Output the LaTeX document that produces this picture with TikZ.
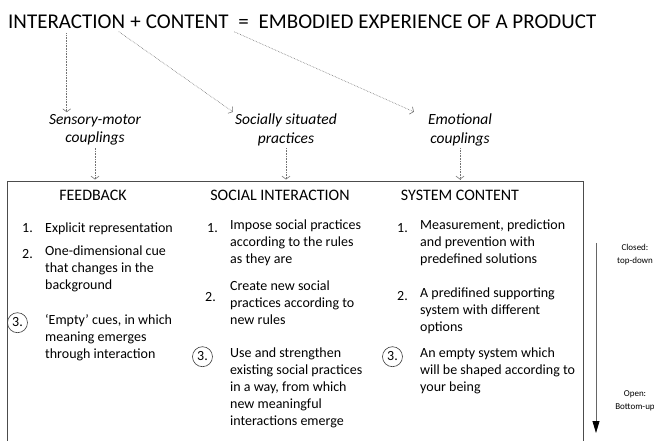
\documentclass[tikz,border=0pt]{standalone}
\usepackage{fontspec}
\setmainfont{Carlito}
\usetikzlibrary{positioning,arrows.meta}

\begin{document}
\begin{tikzpicture}[x=1pt, y=-1pt,
        title/.style={inner sep=0pt, font=\fontsize{21}{25}\selectfont},
        couple/.style={inner sep=2pt, align=center, font=\fontsize{15.5}{18.5}\selectfont\itshape},
        head/.style={inner sep=2pt, font=\fontsize{16}{19}\selectfont},
        item/.style={inner sep=0pt, anchor=north west, align=left,
            font=\fontsize{14}{17}\selectfont, execute at begin node=\strut},
        num/.style={inner sep=0pt, font=\fontsize{14}{17}\selectfont, execute at begin node=\strut},
        ring/.style={draw=black!75, circle, minimum size=20pt, inner sep=0pt, line width=0.6pt},
        link/.style={draw=black!55, densely dotted, line width=0.6pt,
            -{Straight Barb[length=3pt, width=8pt, line width=0.6pt]}},
        frame/.style={draw=black!70, line width=0.9pt},
        side/.style={inner sep=0pt, align=center, font=\fontsize{9}{13}\selectfont}]
    \useasboundingbox (0,0) rectangle (654,441);

    % Title line
    \node (interaction) [title, anchor=base west] at (8,29) {INTERACTION};
    \node (plus) [title, base right=4.7pt of interaction] {+};
    \node (content) [title, base right=4.7pt of plus] {CONTENT};
    \node (equals) [title, base right=9.4pt of content] {=};
    \node (product) [title, base right=9.4pt of equals] {EMBODIED EXPERIENCE OF A PRODUCT};

    % Couplings
    \node (sensory) [couple] at (95,130) {Sensory-motor\\couplings};
    \node (socially) [couple] at (286,130) {Socially situated\\practices};
    \node (emotional) [couple] at (460,130) {Emotional\\couplings};

    \draw [link, shorten <=4pt] (interaction.south) -- (interaction.south |- sensory.north);
    \draw [link, shorten <=4pt] ([xshift=-10pt]interaction.south east) -- (socially.north west);
    \draw [link, shorten <=6pt] (content.south east) -- ([xshift=-12pt]emotional.north west);

    % Frame, open at the bottom
    \coordinate (fl) at (7,441);
    \coordinate (fr) at (583,441);
    \draw [frame] (fl) -- (fl |- 0,181) -- (fr |- 0,181) -- (fr);

    % Column heads
    \node (feedback) [head] at (93,195) {FEEDBACK};
    \node (social) [head] at (280,195) {SOCIAL INTERACTION};
    \node (system) [head] at (460,195) {SYSTEM CONTENT};

    \draw [link, shorten >=8pt] (sensory.south) -- (sensory.south |- feedback.north);
    \draw [link, shorten >=8pt] (socially.south) -- (socially.south |- social.north);
    \draw [link, shorten >=8pt] (emotional.south) -- (emotional.south |- system.north);

    % Feedback
    \node (f1) [item] at (45,220) {Explicit representation};
    \node (f2) [item] at (45,246) {One-dimensional cue\\that changes in the\\background};
    \node (f3) [item] at (45,314) {`Empty' cues, in which\\meaning emerges\\through interaction};
    \node (f1n) [num, below left=0pt and 12pt of f1.north west] {1.};
    \node (f2n) [num, below left=0pt and 12pt of f2.north west] {2.};
    \node (f3n) [num, below left=0pt and 22pt of f3.north west] {3.};
    \node (f3r) [ring] at (f3n) {};

    % Social interaction
    \node (s1) [item] at (230,220) {Impose social practices\\according to the rules\\as they are};
    \node (s2) [item] at (230,281) {Create new social\\practices according to\\new rules};
    \node (s3) [item] at (230,348) {Use and strengthen\\existing social practices\\in a way, from which\\new meaningful\\interactions emerge};
    \node (s1n) [num, below left=0pt and 12pt of s1.north west] {1.};
    \node (s2n) [num, below left=8pt and 14pt of s2.north west] {2.};
    \node (s3n) [num, below left=0pt and 22pt of s3.north west] {3.};
    \node (s3r) [ring] at (s3n) {};

    % System content
    \node (c1) [item] at (420,220) {Measurement, prediction\\and prevention with\\predefined solutions};
    \node (c2) [item] at (420,288) {A predifined supporting\\system with different\\options};
    \node (c3) [item] at (420,348) {An empty system which\\will be shaped according to\\your being};
    \node (c1n) [num, below left=0pt and 12pt of c1.north west] {1.};
    \node (c2n) [num, below left=0pt and 12pt of c2.north west] {2.};
    \node (c3n) [num, below left=0pt and 22pt of c3.north west] {3.};
    \node (c3r) [ring] at (c3n) {};

    % Closed to open scale
    \coordinate (top) at (596,243);
    \coordinate (bottom) at (596,433);
    \draw [draw=black!60, line width=0.8pt, -{Triangle[length=12pt, width=7pt, color=black]}] (top) -- (bottom);
    \node (closed) [side] at (635,255) {Closed:\\top-down};
    \node (open) [side] at (635,401) {Open:\\Bottom-up};
\end{tikzpicture}
\end{document}
